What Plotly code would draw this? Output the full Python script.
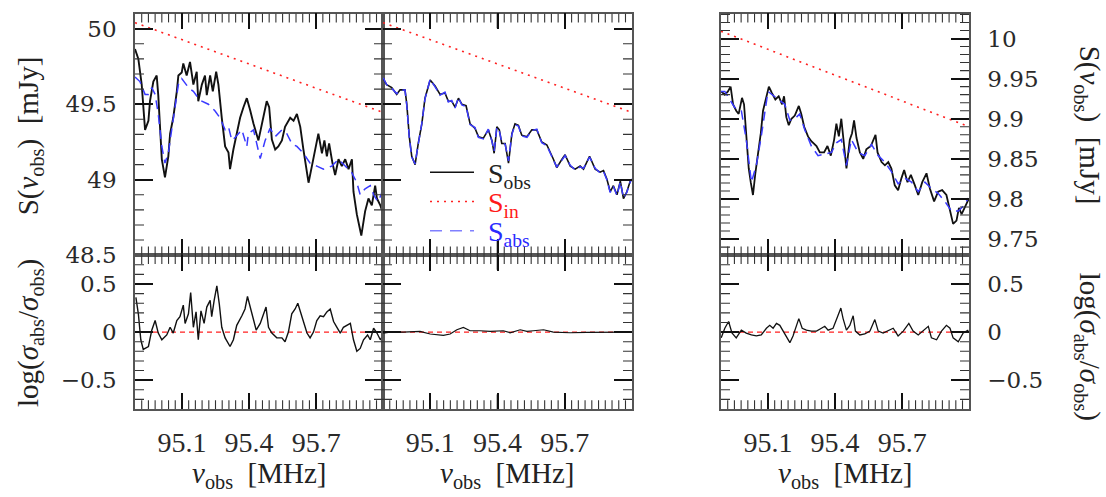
import plotly.graph_objects as go

# ---------------- data ----------------
# left panel (S ~ 50 mJy)
left_obs_f = [94.890, 94.905, 94.920, 94.927, 94.935, 94.950, 94.957, 94.972, 94.987, 94.994,
              95.002, 95.010, 95.024, 95.039, 95.047, 95.061, 95.077, 95.084, 95.099, 95.106,
              95.121, 95.136, 95.151, 95.166, 95.173, 95.189, 95.203, 95.211, 95.226, 95.238,
              95.253, 95.263, 95.278, 95.293, 95.308, 95.315, 95.330, 95.345, 95.360, 95.375,
              95.390, 95.405, 95.420, 95.442, 95.464, 95.479, 95.490, 95.502, 95.517, 95.531,
              95.547, 95.561, 95.584, 95.599, 95.614, 95.629, 95.643, 95.666, 95.681, 95.696,
              95.710, 95.726, 95.737, 95.748, 95.758, 95.773, 95.785, 95.800, 95.815, 95.830,
              95.845, 95.860, 95.867, 95.882, 95.902, 95.919, 95.934, 95.949, 95.964, 95.972,
              95.987, 96.000]
left_obs_s = [49.865, 49.80, 49.63, 49.48, 49.33, 49.39, 49.52, 49.65, 49.69, 49.56,
              49.305, 49.135, 49.015, 49.155, 49.305, 49.41, 49.585, 49.69, 49.71, 49.77,
              49.69, 49.78, 49.63, 49.715, 49.52, 49.63, 49.69, 49.56, 49.69, 49.585,
              49.715, 49.63, 49.41, 49.22, 49.18, 49.07, 49.20, 49.305, 49.41, 49.48,
              49.54, 49.46, 49.37, 49.26, 49.41, 49.52, 49.48, 49.265, 49.20, 49.22,
              49.26, 49.35, 49.41, 49.39, 49.435, 49.35, 49.20, 48.98, 49.09, 49.20,
              49.305, 49.175, 49.26, 49.155, 49.24, 49.11, 49.03, 49.135, 49.09, 49.135,
              49.07, 49.135, 48.92, 48.77, 48.63, 48.79, 48.875, 48.83, 48.96, 48.875,
              48.83, 48.77]
left_abs_f = [94.890, 94.912, 94.935, 94.950, 94.965, 94.980, 94.994, 95.010, 95.024, 95.039,
              95.054, 95.069, 95.084, 95.099, 95.129, 95.151, 95.173, 95.189, 95.218, 95.248,
              95.270, 95.293, 95.308, 95.323, 95.338, 95.368, 95.390, 95.397, 95.420, 95.450,
              95.472, 95.494, 95.517, 95.547, 95.569, 95.591, 95.614, 95.643, 95.673, 95.703,
              95.733, 95.770, 95.800, 95.830, 95.860, 95.882, 95.897, 95.919, 95.942, 95.957,
              95.976, 95.991, 96.000]
left_abs_s = [49.68, 49.65, 49.565, 49.565, 49.61, 49.565, 49.435, 49.22, 49.11, 49.175,
              49.33, 49.48, 49.63, 49.67, 49.61, 49.585, 49.54, 49.52, 49.50, 49.455,
              49.41, 49.33, 49.35, 49.26, 49.28, 49.33, 49.22, 49.305, 49.33, 49.14,
              49.26, 49.34, 49.285, 49.33, 49.305, 49.24, 49.22, 49.175, 49.11, 49.09,
              49.07, 49.09, 49.135, 49.09, 49.045, 48.98, 48.90, 48.94, 48.96, 48.90,
              48.855, 48.90, 48.96]
left_in_f = [94.890, 96.000]
left_in_s = [50.04, 49.445]
left_ratio_f = [94.894, 94.905, 94.916, 94.927, 94.950, 94.965, 94.980, 94.994, 95.010, 95.032,
                95.047, 95.061, 95.077, 95.091, 95.106, 95.114, 95.129, 95.139, 95.151, 95.163,
                95.173, 95.185, 95.199, 95.211, 95.226, 95.233, 95.244, 95.256, 95.267, 95.278,
                95.293, 95.315, 95.330, 95.345, 95.368, 95.382, 95.393, 95.405, 95.417, 95.432,
                95.450, 95.464, 95.476, 95.487, 95.502, 95.524, 95.547, 95.561, 95.576, 95.591,
                95.606, 95.618, 95.632, 95.643, 95.659, 95.673, 95.688, 95.703, 95.718, 95.733,
                95.748, 95.763, 95.778, 95.793, 95.808, 95.822, 95.838, 95.853, 95.867, 95.882,
                95.897, 95.912, 95.930, 95.942, 95.957, 95.972, 95.987, 96.000]
left_ratio = [0.36, 0.19, -0.08, -0.18, -0.15, 0.02, 0.12, -0.01, -0.08, -0.03,
              0.05, -0.01, 0.12, 0.16, 0.28, 0.09, 0.19, 0.41, 0.05, 0.21,
              -0.08, 0.22, 0.09, 0.26, 0.33, 0.16, 0.33, 0.48, 0.29, 0.05,
              -0.06, -0.15, -0.08, 0.07, 0.17, 0.24, 0.37, 0.26, 0.16, 0.02,
              0.09, 0.19, 0.26, 0.05, -0.01, -0.06, -0.06, -0.10, 0.00, 0.19,
              0.24, 0.30, 0.19, 0.12, -0.01, -0.06, 0.00, 0.12, 0.17, 0.16,
              0.21, 0.24, 0.11, 0.05, -0.01, 0.05, 0.07, 0.09, -0.08, -0.20,
              -0.17, -0.08, -0.03, -0.08, 0.04, -0.01, -0.08, -0.03]

# middle panel (S ~ 50 mJy, S_abs ~ S_obs)
mid_f = [94.891, 94.906, 94.929, 94.951, 94.966, 94.988, 94.996, 95.007, 95.018, 95.033,
         95.047, 95.063, 95.077, 95.100, 95.122, 95.144, 95.166, 95.181, 95.196, 95.211,
         95.226, 95.241, 95.260, 95.278, 95.300, 95.315, 95.337, 95.359, 95.375, 95.385,
         95.397, 95.408, 95.419, 95.434, 95.449, 95.464, 95.478, 95.493, 95.508, 95.531,
         95.553, 95.575, 95.597, 95.620, 95.649, 95.664, 95.687, 95.701, 95.724, 95.746,
         95.768, 95.783, 95.810, 95.835, 95.857, 95.872, 95.887, 95.902, 95.916, 95.932,
         95.947, 95.961, 95.976, 95.991, 95.999]
mid_obs_s = [49.67, 49.63, 49.61, 49.565, 49.595, 49.595, 49.50, 49.285, 49.155, 49.10,
             49.24, 49.37, 49.54, 49.66, 49.62, 49.565, 49.575, 49.52, 49.52, 49.48,
             49.54, 49.50, 49.49, 49.37, 49.34, 49.285, 49.275, 49.33, 49.26, 49.175,
             49.35, 49.33, 49.24, 49.24, 49.11, 49.305, 49.37, 49.36, 49.295, 49.285,
             49.33, 49.33, 49.25, 49.23, 49.135, 49.08, 49.135, 49.165, 49.09, 49.07,
             49.09, 49.07, 49.155, 49.07, 49.05, 49.06, 49.005, 48.92, 48.96, 48.90,
             48.99, 48.875, 48.92, 48.99, 49.00]
mid_abs_s = [49.675, 49.63, 49.605, 49.57, 49.59, 49.595, 49.49, 49.28, 49.15, 49.105,
             49.235, 49.375, 49.535, 49.665, 49.615, 49.56, 49.58, 49.515, 49.525, 49.475,
             49.545, 49.495, 49.485, 49.365, 49.345, 49.28, 49.27, 49.335, 49.255, 49.19,
             49.345, 49.325, 49.245, 49.235, 49.125, 49.30, 49.365, 49.355, 49.29, 49.28,
             49.325, 49.335, 49.245, 49.225, 49.13, 49.085, 49.13, 49.16, 49.095, 49.065,
             49.085, 49.075, 49.15, 49.075, 49.045, 49.055, 49.00, 48.915, 48.955, 48.895,
             48.985, 48.88, 48.915, 48.985, 49.005]
mid_in_f = [94.890, 96.000]
mid_in_s = [50.04, 49.445]
mid_ratio_f = [94.891, 94.921, 94.980, 95.055, 95.100, 95.129, 95.159, 95.189, 95.219, 95.248,
               95.278, 95.322, 95.367, 95.426, 95.456, 95.501, 95.531, 95.560, 95.605, 95.649,
               95.724, 95.798, 95.872, 95.991]
mid_ratio = [-0.01, 0.0, 0.0, 0.007, -0.02, -0.027, -0.034, -0.02, 0.024, 0.048,
             0.014, 0.014, 0.007, 0.014, -0.007, 0.024, 0.007, 0.014, 0.024, 0.0,
             -0.007, -0.003, -0.003, 0.0]

# right panel (S ~ 10 mJy)
right_obs_f = [94.891, 94.907, 94.921, 94.933, 94.944, 94.958, 94.969, 94.984, 94.993, 95.003,
               95.014, 95.023, 95.033, 95.044, 95.056, 95.068, 95.078, 95.093, 95.104, 95.118,
               95.133, 95.148, 95.163, 95.172, 95.182, 95.193, 95.205, 95.220, 95.238, 95.249,
               95.262, 95.279, 95.294, 95.317, 95.332, 95.351, 95.366, 95.381, 95.396, 95.406,
               95.417, 95.428, 95.441, 95.451, 95.466, 95.476, 95.485, 95.496, 95.511, 95.526,
               95.540, 95.560, 95.581, 95.590, 95.608, 95.623, 95.638, 95.652, 95.667, 95.682,
               95.697, 95.709, 95.724, 95.739, 95.757, 95.772, 95.790, 95.809, 95.824, 95.843,
               95.861, 95.879, 95.898, 95.914, 95.928, 95.943, 95.954, 95.966, 95.981, 95.996]
right_obs_s = [9.934, 9.930, 9.934, 9.940, 9.918, 9.910, 9.906, 9.926, 9.918, 9.882,
               9.838, 9.821, 9.805, 9.833, 9.858, 9.882, 9.910, 9.926, 9.940, 9.932,
               9.924, 9.928, 9.918, 9.928, 9.902, 9.892, 9.900, 9.904, 9.916, 9.906,
               9.890, 9.878, 9.872, 9.866, 9.858, 9.858, 9.866, 9.854, 9.874, 9.894,
               9.878, 9.900, 9.862, 9.838, 9.874, 9.882, 9.898, 9.876, 9.858, 9.850,
               9.862, 9.866, 9.880, 9.858, 9.846, 9.842, 9.846, 9.838, 9.817, 9.811,
               9.826, 9.836, 9.821, 9.830, 9.817, 9.805, 9.821, 9.832, 9.813, 9.797,
               9.809, 9.811, 9.805, 9.785, 9.769, 9.773, 9.789, 9.781, 9.789, 9.799]
right_abs_f = [94.890, 94.907, 94.951, 94.981, 95.003, 95.026, 95.048, 95.070, 95.100, 95.137,
               95.175, 95.198, 95.220, 95.242, 95.265, 95.294, 95.324, 95.354, 95.384, 95.406,
               95.428, 95.451, 95.473, 95.503, 95.533, 95.563, 95.593, 95.623, 95.652, 95.682,
               95.712, 95.742, 95.772, 95.802, 95.831, 95.861, 95.891, 95.921, 95.951, 95.973,
               95.996]
right_abs_s = [9.934, 9.934, 9.914, 9.910, 9.874, 9.821, 9.842, 9.878, 9.934, 9.926,
               9.918, 9.898, 9.900, 9.906, 9.886, 9.866, 9.854, 9.856, 9.858, 9.870,
               9.874, 9.842, 9.874, 9.858, 9.854, 9.868, 9.854, 9.846, 9.834, 9.819,
               9.826, 9.821, 9.809, 9.821, 9.813, 9.807, 9.797, 9.785, 9.785, 9.791,
               9.801]
right_in_f = [94.890, 96.000]
right_in_s = [10.009, 9.890]
right_ratio_f = [94.891, 94.907, 94.924, 94.939, 94.958, 94.981, 95.003, 95.026, 95.048, 95.070,
                 95.093, 95.108, 95.123, 95.138, 95.153, 95.168, 95.182, 95.198, 95.212, 95.227,
                 95.238, 95.253, 95.272, 95.294, 95.317, 95.339, 95.354, 95.369, 95.391, 95.411,
                 95.426, 95.436, 95.451, 95.466, 95.481, 95.491, 95.511, 95.533, 95.556, 95.578,
                 95.593, 95.615, 95.638, 95.660, 95.682, 95.705, 95.730, 95.749, 95.772, 95.794,
                 95.817, 95.831, 95.854, 95.876, 95.898, 95.914, 95.928, 95.951, 95.973, 95.996]
right_ratio = [-0.06, 0.04, 0.11, -0.01, -0.06, 0.02, -0.01, -0.03, -0.04, -0.03,
               0.04, 0.07, 0.04, 0.09, 0.07, 0.01, -0.06, -0.11, -0.04, 0.07,
               0.14, 0.04, 0.02, 0.01, 0.01, 0.04, 0.06, 0.02, 0.04, 0.16,
               0.25, 0.14, 0.02, 0.07, 0.17, 0.01, -0.03, -0.02, 0.01, 0.13,
               0.01, -0.01, 0.02, 0.04, -0.04, 0.01, 0.09, 0.01, -0.03, 0.01,
               0.06, -0.06, -0.08, 0.01, 0.07, 0.04, -0.06, -0.10, -0.01, 0.02]

zero_f = [94.890, 96.000]
zero_v = [0.0, 0.0]

freq_range = [94.89, 95.999]
top_range_50 = [48.5, 50.1]
top_range_10 = [9.730, 10.031]
ratio_range = [-0.8, 0.8]

# tick layout (axis decorations)
freq_major = [95.1, 95.4, 95.7]
freq_minor_step = 0.03

# ---------------- figure ----------------
W, H = 1106, 497
BLACK = "#111111"
RED = "#ff2020"
BLUE = "#3a3aff"

fig = go.Figure()

def add(xs, ys, ax, color, dash, width):
    fig.add_trace(go.Scatter(x=xs, y=ys, mode="lines", xaxis="x" + ax, yaxis="y" + ax,
                             line=dict(color=color, dash=dash, width=width),
                             showlegend=False, hoverinfo="skip"))

add(left_obs_f, left_obs_s, "", BLACK, "solid", 1.9)
add(left_in_f, left_in_s, "", RED, "2px,5px", 1.6)
add(left_abs_f, left_abs_s, "", BLUE, "9px,6px", 1.5)

add(mid_f, mid_obs_s, "2", BLACK, "solid", 1.6)
add(mid_in_f, mid_in_s, "2", RED, "2px,5px", 1.6)
add(mid_f, mid_abs_s, "2", BLUE, "9px,5px", 1.5)

add(right_obs_f, right_obs_s, "3", BLACK, "solid", 1.8)
add(right_in_f, right_in_s, "3", RED, "2px,5px", 1.6)
add(right_abs_f, right_abs_s, "3", BLUE, "9px,6px", 1.5)

add(zero_f, zero_v, "4", RED, "5px,4px", 1.3)
add(left_ratio_f, left_ratio, "4", BLACK, "solid", 1.4)
add(zero_f, zero_v, "5", RED, "5px,4px", 1.3)
add(mid_ratio_f, mid_ratio, "5", BLACK, "solid", 1.2)
add(zero_f, zero_v, "6", RED, "5px,4px", 1.3)
add(right_ratio_f, right_ratio, "6", BLACK, "solid", 1.3)

# ---------------- axes ----------------
def px_x(a, b):
    return [a / W, b / W]

def px_y(top, bottom):
    return [1 - bottom / H, 1 - top / H]

cols = [px_x(135, 383), px_x(383, 632), px_x(721, 969)]
col_w = [248, 249, 248]
top_dom = px_y(14, 262)
bot_dom = px_y(262, 420)
row_h = [248, 158]

TICKFONT_X = dict(family="Liberation Serif", size=28, color="#2a2a2a")
TICKFONT_Y = dict(family="DejaVu Serif", size=23, color="#2a2a2a")

major = dict(mirror="allticks", ticks="inside", showgrid=False, zeroline=False,
             showline=True, linecolor="#555555", linewidth=1.5,
             tickcolor="#111111", tickwidth=1.6)

layout_axes = {}
names_x = ["xaxis", "xaxis2", "xaxis3", "xaxis4", "xaxis5", "xaxis6"]
names_y = ["yaxis", "yaxis2", "yaxis3", "yaxis4", "yaxis5", "yaxis6"]
anchors = ["y", "y2", "y3", "y4", "y5", "y6"]
xanchors = ["x", "x2", "x3", "x4", "x5", "x6"]

shapes = []

def frange(start, stop, step):
    n = int(round((stop - start) / step))
    return [round(start + k * step, 6) for k in range(n + 1)]

def is_mult(v, step):
    q = v / step
    return abs(q - round(q)) < 1e-6

def xticks(xid, vals, length_px, height_px, color, width):
    frac = length_px / height_px
    yid = anchors[xanchors.index(xid)]
    for v in vals:
        for y0, y1 in ((0, frac), (1, 1 - frac)):
            shapes.append(dict(type="line", xref=xid, yref=yid + " domain",
                               x0=v, x1=v, y0=y0, y1=y1, layer="above",
                               line=dict(color=color, width=width)))

def yticks(xid, vals, length_px, width_px, color, width):
    frac = length_px / width_px
    yid = anchors[xanchors.index(xid)]
    for v in vals:
        for x0, x1 in ((0, frac), (1, 1 - frac)):
            shapes.append(dict(type="line", xref=xid + " domain", yref=yid,
                               x0=x0, x1=x1, y0=v, y1=v, layer="above",
                               line=dict(color=color, width=width)))

freq_minor = [v for v in frange(94.92, 95.97, freq_minor_step)
              if not any(abs(v - m) < 1e-6 for m in freq_major)]

for i in range(6):
    col = i % 3
    is_top = i < 3
    layout_axes[names_x[i]] = dict(
        major, domain=cols[col], anchor=anchors[i], range=freq_range,
        tickmode="array", tickvals=freq_major, ticklen=16,
        showticklabels=not is_top, tickfont=TICKFONT_X, ticklabelstandoff=8)

    if is_top:
        if col == 2:
            rng, dt, t0, mdt = top_range_10, 0.05, 9.75, 0.01
        else:
            rng, dt, t0, mdt = top_range_50, 0.5, 48.5, 0.1
    else:
        rng, dt, t0, mdt = ratio_range, 0.5, 0.0, 0.1
    dom = top_dom if is_top else bot_dom
    side = "right" if col == 2 else "left"
    layout_axes[names_y[i]] = dict(
        major, domain=dom, anchor=xanchors[i], range=rng,
        tickmode="linear", tick0=t0, dtick=dt, ticklen=18,
        showticklabels=(col != 1), tickfont=TICKFONT_Y,
        side=side, ticklabelstandoff=12)

    h = row_h[0] if is_top else row_h[1]
    xticks(xanchors[i], freq_major, 15, h, "#111111", 1.6)
    xticks(xanchors[i], freq_minor, 9, h, "#333333", 1.1)
    lo = rng[0] + 1e-9
    first = mdt * (int(lo / mdt) + 1) if lo > 0 else mdt * int(lo / mdt)
    y_minor = [v for v in frange(round(first, 6), rng[1], mdt)
               if rng[0] < v < rng[1] and not is_mult(v, dt)]
    yticks(xanchors[i], y_minor, 9, col_w[col], "#333333", 1.1)

fig.update_layout(**layout_axes)

# ---------------- text: axis titles & legend ----------------
TFONT = dict(family="Liberation Serif", size=29, color="#222222")
S_TITLE = "S(<i>ν</i><sub>obs</sub>)  [mJy]"
R_TITLE = "log(<i>σ</i><sub>abs</sub>/<i>σ</i><sub>obs</sub>)"
X_TITLE = "<i>ν</i><sub>obs</sub>  [MHz]"

annots = []
def note(text, x, y, angle=0, font=TFONT, xanchor="center", yanchor="middle"):
    annots.append(dict(text=text, x=x / W, y=1 - y / H, xref="paper", yref="paper",
                       showarrow=False, textangle=angle, font=font,
                       xanchor=xanchor, yanchor=yanchor))

note(S_TITLE, 30, 140, -90)
note(R_TITLE, 30, 342, -90)
note(S_TITLE, 1088, 128, 90)
note(R_TITLE, 1088, 356, 90)
for cx in (259, 507, 845):
    note(X_TITLE, cx, 488)

LFONT = dict(family="Liberation Serif", size=28)
note("S<sub>obs</sub>", 486, 180, 0, dict(LFONT, color="#222222"), xanchor="left")
note("S<sub>in</sub>", 486, 210, 0, dict(LFONT, color="#ff1a1a"), xanchor="left")
note("S<sub>abs</sub>", 486, 240, 0, dict(LFONT, color="#2a2aff"), xanchor="left")

shapes += [
    dict(type="line", xref="paper", yref="paper", x0=430 / W, x1=474 / W,
         y0=1 - 177 / H, y1=1 - 177 / H, line=dict(color=BLACK, width=1.5)),
    dict(type="line", xref="paper", yref="paper", x0=430 / W, x1=474 / W,
         y0=1 - 207 / H, y1=1 - 207 / H, line=dict(color=RED, width=1.5, dash="2px,5px")),
    dict(type="line", xref="paper", yref="paper", x0=430 / W, x1=474 / W,
         y0=1 - 237 / H, y1=1 - 237 / H, line=dict(color="#8080ff", width=1.6, dash="12px,8px")),
]

fig.update_layout(width=W, height=H, margin=dict(l=0, r=0, t=0, b=0),
                  paper_bgcolor="white", plot_bgcolor="white",
                  annotations=annots, shapes=shapes, showlegend=False)

fig.write_html("out.html", config={"displayModeBar": False})
